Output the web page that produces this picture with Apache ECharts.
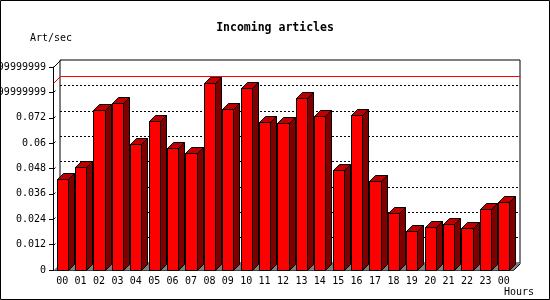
<!DOCTYPE html>
<html>
<head>
<meta charset="utf-8">
<script src="https://cdn.jsdelivr.net/npm/echarts@6/dist/echarts.min.js"></script>
<style>
  html, body { margin: 0; padding: 0; background: #fff; }
  #chart { width: 550px; height: 300px; }
</style>
</head>
<body>
<div id="chart"></div>
<script>
// hours of the day (last one wraps to 00)
const hours = ['00', '01', '02', '03', '04', '05', '06', '07', '08', '09', '10', '11',
  '12', '13', '14', '15', '16', '17', '18', '19', '20', '21', '22', '23', '00'];
// incoming articles per second
const artPerSec = [0.0430, 0.0486, 0.0755, 0.0789, 0.0598, 0.0703, 0.0579, 0.0552,
  0.0886, 0.0763, 0.0862, 0.0702, 0.0697, 0.0815, 0.0730, 0.0475, 0.0735, 0.0423,
  0.0268, 0.0183, 0.0202, 0.0216, 0.0197, 0.0287, 0.0320];
const yTicks = [0, 0.012, 0.024, 0.036, 0.048, 0.06, 0.072, 0.084, 0.096];
// the original prints the float rounding errors, they get cut off at the left edge
const yLabels = ['0', '0.012', '0.024', '0.036', '0.048', '0.06', '0.072',
  '0.08399999999999999', '0.09599999999999999'];

const monoFont = '"DejaVu Sans Mono", monospace';
const DEPTH = 7;     // depth of the frame
const BAR_DEPTH = 6; // depth of the bars

const chart = echarts.init(document.getElementById('chart'));

function px(v) { return Math.round(v) + 0.5; }

// 3d bar: front rect, dark side, top face
function renderBar(params, api) {
  const top = api.coord([api.value(0), api.value(1)]);
  const base = api.coord([api.value(0), 0]);
  const w = api.size([1, 0])[0] * 0.6;
  const x0 = px(top[0] - w / 2);
  const x1 = px(top[0] + w / 2);
  const yt = px(top[1]);
  const yb = px(base[1]);
  const d = BAR_DEPTH;
  const stroke = { stroke: '#000', lineWidth: 1 };
  return {
    type: 'group',
    children: [
      { type: 'polygon', shape: { points: [[x1, yt], [x1 + d, yt - d], [x1 + d, yb - d], [x1, yb]] },
        style: Object.assign({ fill: '#800000' }, stroke) },
      { type: 'polygon', shape: { points: [[x0, yt], [x0 + d, yt - d], [x1 + d, yt - d], [x1, yt]] },
        style: Object.assign({ fill: '#c00000' }, stroke) },
      { type: 'rect', shape: { x: x0, y: yt, width: x1 - x0, height: yb - yt },
        style: Object.assign({ fill: '#ff0000' }, stroke) }
    ]
  };
}

// grey floor and the two corner diagonals of the frame
function renderFloor(params, api) {
  const cs = params.coordSys;
  const yb = px(api.coord([0, 0])[1]);
  const yTop = px(cs.y);
  const xl = px(cs.x);
  const xr = px(cs.x + cs.width);
  return {
    type: 'group',
    children: [
      { type: 'polygon', shape: { points: [[xl, yb], [xr, yb], [xr + DEPTH, yb - DEPTH], [xl + DEPTH, yb - DEPTH]] },
        style: { fill: '#808080' } },
      { type: 'line', shape: { x1: xr, y1: yb, x2: xr + DEPTH, y2: yb - DEPTH }, style: { stroke: '#000', lineWidth: 1 } },
      { type: 'line', shape: { x1: xl, y1: yTop, x2: xl + DEPTH, y2: yTop - DEPTH }, style: { stroke: '#000', lineWidth: 1 } }
    ]
  };
}

// red line at the maximum, running on the back wall
function renderMax(params, api) {
  const cs = params.coordSys;
  const y = px(api.coord([0, api.value(1)])[1]);
  const xl = px(cs.x);
  const xr = px(cs.x + cs.width);
  return {
    type: 'polyline',
    shape: { points: [[xl, y], [xl + DEPTH, y - DEPTH], [xr + DEPTH, y - DEPTH]] },
    style: { stroke: '#ff0000', lineWidth: 1, fill: null }
  };
}

// little slanted stubs on the side wall at each tick
function renderStub(params, api) {
  const cs = params.coordSys;
  const y = px(api.coord([0, api.value(1)])[1]);
  const x = px(cs.x);
  return { type: 'line', shape: { x1: x, y1: y, x2: x + 2, y2: y - 2 }, style: { stroke: '#000', lineWidth: 1 } };
}

const maxVal = Math.max.apply(null, artPerSec);

const option = {
  animation: false,
  backgroundColor: '#fff',
  title: {
    text: 'Incoming articles',
    left: 'center',
    top: 17,
    textStyle: { fontFamily: monoFont, fontWeight: 'bold', fontSize: 11.5, color: '#000' }
  },
  grid: [
    // front plane
    { left: 53, right: 37, top: 67, bottom: 30, outerBoundsMode: 'none', containLabel: false },
    // back wall
    { left: 53 + DEPTH, right: 37 - DEPTH, top: 67 - DEPTH, bottom: 30 + DEPTH,
      outerBoundsMode: 'none', containLabel: false,
      show: true, borderColor: '#000', borderWidth: 1, backgroundColor: 'transparent' }
  ],
  xAxis: [
    {
      gridIndex: 0,
      type: 'category',
      data: hours,
      z: 0,
      axisLine: { lineStyle: { color: '#000', width: 1 } },
      axisTick: { length: 4, lineStyle: { color: '#000' } },
      axisLabel: { fontFamily: monoFont, fontSize: 10, color: '#000', margin: 6, interval: 0 }
    },
    { gridIndex: 1, type: 'category', data: hours, show: false, z: 0 }
  ],
  yAxis: [
    {
      gridIndex: 0,
      type: 'value',
      min: 0,
      max: 0.096,
      interval: 0.012,
      z: 0,
      axisLine: { show: true, lineStyle: { color: '#000', width: 1 } },
      axisTick: { show: true, length: 4, lineStyle: { color: '#000' } },
      splitLine: { show: false },
      axisLabel: {
        fontFamily: monoFont, fontSize: 10, color: '#000', margin: 7,
        formatter: v => yLabels[Math.round(v / 0.012)]
      }
    },
    {
      gridIndex: 1,
      type: 'value',
      min: 0,
      max: 0.096,
      interval: 0.012,
      z: 0,
      axisLine: { show: false },
      axisTick: { show: false },
      axisLabel: { show: false },
      splitLine: {
        show: true, showMinLine: false, showMaxLine: false,
        lineStyle: { color: '#000', width: 1, type: [2, 2] }
      }
    }
  ],
  graphic: [
    { type: 'text', x: 30, y: 38, style: { text: 'Art/sec', font: '10px ' + monoFont, fill: '#000', align: 'left', verticalAlign: 'middle' } },
    { type: 'text', x: 534, y: 292, style: { text: 'Hours', font: '10px ' + monoFont, fill: '#000', align: 'right', verticalAlign: 'middle' } },
    { type: 'rect', z: 100, shape: { x: 0.5, y: 0.5, width: 549, height: 299 }, style: { fill: null, stroke: '#000', lineWidth: 1 } }
  ],
  series: [
    { type: 'custom', name: 'floor', xAxisIndex: 0, yAxisIndex: 0, z: 10, renderItem: renderFloor, data: [[0, 0]] },
    { type: 'custom', name: 'stubs', xAxisIndex: 0, yAxisIndex: 0, z: 10, renderItem: renderStub,
      data: yTicks.slice(1, -1).map(v => [0, v]) },
    { type: 'custom', name: 'max', xAxisIndex: 0, yAxisIndex: 0, z: 11, renderItem: renderMax, data: [[0, maxVal]] },
    { type: 'custom', name: 'Art/sec', xAxisIndex: 0, yAxisIndex: 0, z: 12, renderItem: renderBar,
      encode: { x: 0, y: 1 },
      data: artPerSec.map((v, i) => [i, v]) }
  ]
};

chart.setOption(option);
</script>
</body>
</html>
